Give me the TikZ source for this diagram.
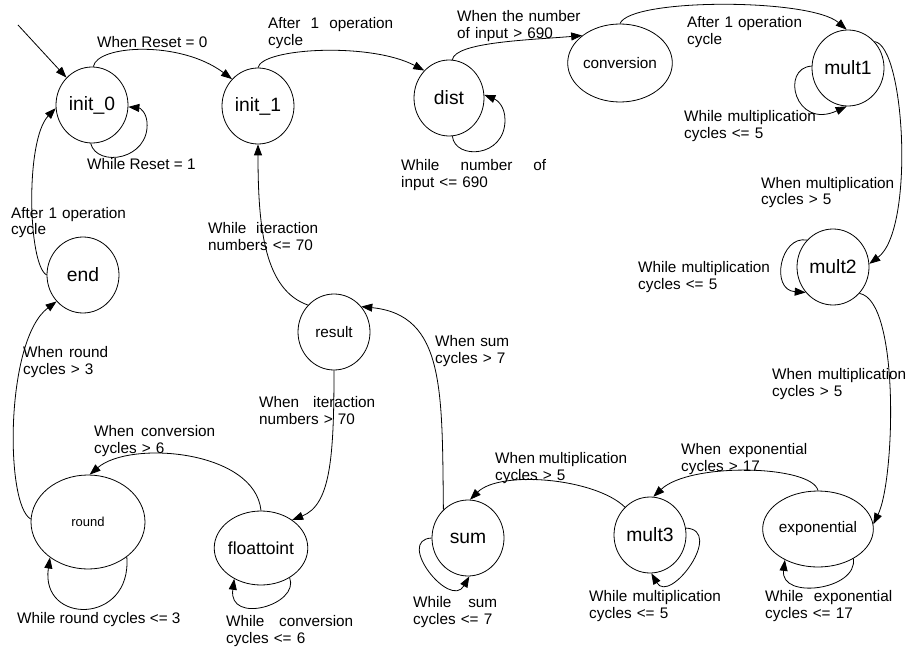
\documentclass[tikz,border=0pt]{standalone}
\usepackage{fontspec}
\setmainfont{Liberation Sans}
\usetikzlibrary{arrows.meta,shapes.geometric}
\begin{document}
\begin{tikzpicture}[x=1pt,y=-1pt,
  state/.style={draw, ellipse, line width=0.8pt, minimum width=72pt, minimum height=76pt,
    inner sep=0pt, font=\fontsize{19.3}{22}\selectfont},
  midfont/.style={font=\fontsize{15.3}{18}\selectfont},
  lbl/.style={anchor=base west, inner sep=0pt, font=\fontsize{15.3}{17}\selectfont},
  jl/.style={lbl, text width=#1},
  tr/.style={draw, line width=0.8pt, -{Triangle[length=11pt,width=8pt]}},
]
\useasboundingbox (0,0) rectangle (909,647);
\fill[white] (0,0) rectangle (909,647);

% states
\node[state] (i0) at (92,105) {init\_0};
\node[state] (i1) at (258,106) {init\_1};
\node[state, minimum width=70pt] (dist) at (449,98) {dist};
\node[state, midfont, minimum width=84pt, minimum height=78pt] (conv) at (620,63) {conversion};
\node[state] (m1) at (848,68) {mult1};
\node[state] (m2) at (833,267) {mult2};
\node[state, midfont] (res) at (334,332) {result};
\node[state] (endst) at (83,275) {end};
\node[state, minimum width=114pt, minimum height=94pt, font=\fontsize{13}{15}\selectfont] (round) at (88,522) {round};
\node[state, minimum height=74pt, font=\fontsize{17.5}{20}\selectfont] (f2i) at (261,548) {floattoint};
\node[state] (sum) at (468,538) {sum};
\node[state] (m3) at (650,535) {mult3};
\node[state, midfont, minimum width=96pt] (expo) at (818,529) {exponential};

% initial transition
\coordinate (s0) at (18,25);
\draw[tr] (s0) -- (i0.133);

% transitions
\draw[tr] (i0.88) .. controls (97,45) and (180,40) .. (i1.134);
\draw[tr] (i0.268) .. controls (97,168) and (150,160) .. (147,122) .. controls (146,112) and (140,108) .. (i0.-3);
\draw[tr] (i1.90) .. controls (262,48) and (370,42) .. (dist.132);
\draw[tr] (dist.-85) .. controls (455,160) and (505,158) .. (505,120) .. controls (505,106) and (497,100) .. (dist.5);
\draw[tr] (dist.85) .. controls (455,42) and (530,40) .. (conv.144);
\draw[tr] (conv.90) .. controls (630,-2) and (810,-2) .. (m1.92);
\draw[tr] (m1.177) .. controls (780,68) and (795,130) .. (m1.-92);
\draw[tr] (m1.45) .. controls (905,45) and (915,230) .. (m2.5);
\draw[tr] (m2.134) .. controls (780,235) and (770,290) .. (m2.223);
\draw[tr] (m2.-45) .. controls (900,300) and (895,480) .. (expo.5);
\draw[tr] (expo.-40) .. controls (858,590) and (780,600) .. (expo.223);
\draw[tr] (expo.90) .. controls (812,465) and (690,462) .. (m3.85);
\draw[tr] (m3.11) .. controls (725,530) and (670,605) .. (m3.-88);
\draw[tr] (m3.132) .. controls (595,478) and (500,470) .. (sum.87);
\draw[tr] (sum.180) .. controls (395,540) and (450,610) .. (sum.-88);
\draw[tr] (sum.131) .. controls (442,390) and (445,315) .. (res.43);
\draw[tr] (res.134) .. controls (265,290) and (258,230) .. (i1.-90);
\draw[tr] (res.-90) .. controls (334,460) and (330,505) .. (f2i.42);
\draw[tr] (f2i.90) .. controls (255,450) and (130,440) .. (round.88);
\draw[tr] (f2i.-46) .. controls (300,605) and (228,625) .. (f2i.229);
\draw[tr] (round.-42) .. controls (132,625) and (40,625) .. (round.223);
\draw[tr] (round.177) .. controls (5,505) and (5,340) .. (endst.225);
\draw[tr] (endst.180) .. controls (28,265) and (25,140) .. (i0.185);

% transition labels
\node[lbl] (t1) at (97,48) {When Reset = 0};
\node[lbl] (t2) at (87,170) {While Reset = 1};
\node[jl=125pt] (t3) at (268,29) {After\hfill 1\hfill operation\\cycle};
\node[jl=145pt] (t4) at (401,171) {While\hfill number\hfill of\\input <= 690};
\node[jl=130pt] (t5) at (457,22) {When the number\\of input > 690};
\node[jl=130pt] (t6) at (687,28) {After 1 operation\\cycle};
\node[jl=140pt] (t7) at (684,122) {While multiplication\\cycles <= 5};
\node[jl=133pt] (t8) at (761,188) {When\hfill multiplication\\cycles > 5};
\node[jl=140pt] (t9) at (638,272) {While multiplication\\cycles <= 5};
\node[jl=134pt] (t10) at (772,379) {When\hfill multiplication\\cycles > 5};
\node[jl=126pt] (t11) at (681,454) {When\hfill exponential\\cycles > 17};
\node[jl=127pt] (t12) at (765,601) {While\hfill exponential\\cycles <= 17};
\node[jl=140pt] (t13) at (589,601) {While multiplication\\cycles <= 5};
\node[jl=132pt] (t14) at (495,463) {When\hfill multiplication\\cycles > 5};
\node[jl=84pt] (t15) at (413,607) {While\hfill sum\\cycles <= 7};
\node[jl=90pt] (t16) at (435,346) {When sum\\cycles > 7};
\node[jl=110pt] (t17) at (208,233) {While\hfill iteraction\\numbers <= 70};
\node[jl=116pt] (t18) at (259,407) {When\hfill iteraction\\numbers > 70};
\node[jl=121pt] (t19) at (94,436) {When\hfill conversion\\cycles > 6};
\node[jl=127pt] (t20) at (226,626) {While\hfill conversion\\cycles <= 6};
\node[lbl] (t21) at (17,623) {While round cycles <= 3};
\node[jl=85pt] (t22) at (23,357) {When\hfill round\\cycles > 3};
\node[jl=125pt] (t23) at (11,218) {After 1 operation\\cycle};
\end{tikzpicture}
\end{document}
